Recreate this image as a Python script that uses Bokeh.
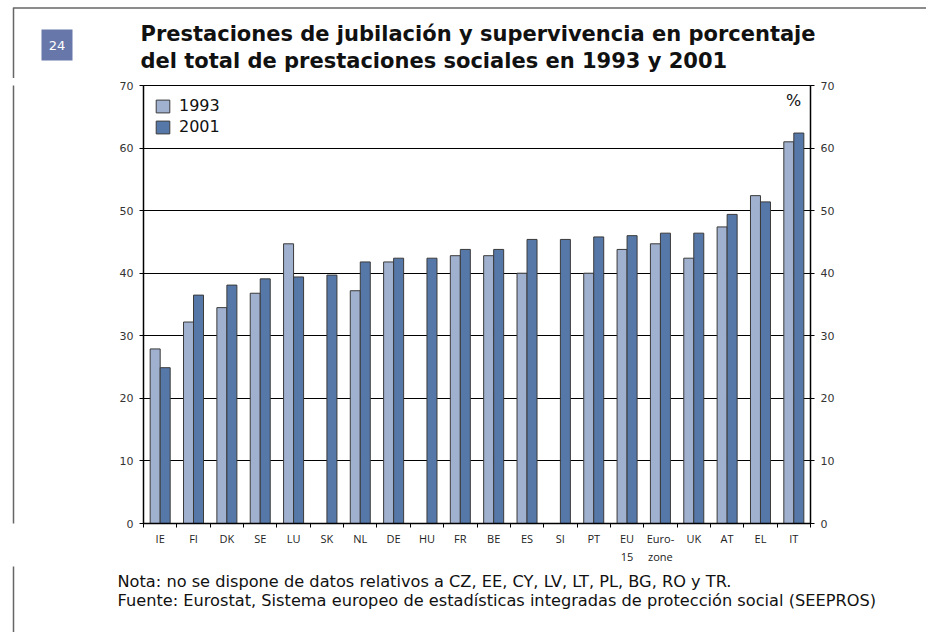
import numpy as np
from bokeh.plotting import figure
from bokeh.layouts import column, row
from bokeh.models import (ColumnDataSource, LinearAxis, FixedTicker, Range1d, Label,
                          Legend, LegendItem)
from bokeh.core.properties import value
from bokeh.embed import file_html
from bokeh.resources import INLINE

# ---------------- data ----------------
categories = ["IE", "FI", "DK", "SE", "LU", "SK", "NL", "DE", "HU", "FR", "BE", "ES", "SI",
              "PT", "EU\n15", "Euro-\nzone", "UK", "AT", "EL", "IT"]
v1993 = [27.9, 32.2, 34.5, 36.8, 44.7, np.nan, 37.2, 41.8, np.nan, 42.8, 42.8, 40.0, np.nan,
         40.0, 43.8, 44.7, 42.4, 47.4, 52.4, 61.0]
v2001 = [24.9, 36.5, 38.1, 39.1, 39.4, 39.7, 41.8, 42.4, 42.4, 43.8, 43.8, 45.4, 45.4,
         45.8, 46.0, 46.4, 46.4, 49.4, 51.4, 62.4]
series_names = ["1993", "2001"]
y_ticks = [0, 10, 20, 30, 40, 50, 60, 70]

badge_text = "24"
title_lines = ["Prestaciones de jubilación y supervivencia en porcentaje",
               "del total de prestaciones sociales en 1993 y 2001"]
notes = ["Nota: no se dispone de datos relativos a CZ, EE, CY, LV, LT, PL, BG, RO y TR.",
         "Fuente: Eurostat, Sistema europeo de estadísticas integradas de protección social (SEEPROS)"]

C1993 = "#a0b0cf"
C2001 = "#5678a9"
EDGE = "#3a3a3a"
FRAME = "#666666"

# ---------------- page geometry (page pixels) ----------------
OX, OY = 0, 0          # page position of the layout's origin
W = 912
WH = 926               # header width (top frame line runs to page edge)
HH = 78 - OY           # header height
SW = 30                # strip width (page frame line on the left)
MAIN_BOTTOM = 566
MH = MAIN_BOTTOM - (OY + HH)
FH = 66

def plain(width, height, xr, yr):
    f = figure(width=width, height=height, output_backend="svg", toolbar_location=None,
               x_range=xr, y_range=yr, min_border=0,
               x_axis_location=None, y_axis_location=None)
    f.grid.visible = False
    f.outline_line_color = None
    f.background_fill_color = "white"
    f.border_fill_color = "white"
    return f

# ---------------- header ----------------
hdr = plain(WH, HH, Range1d(OX, OX + WH), Range1d(OY + HH, OY))
hdr.segment(x0=[13, 13], y0=[7.5, 7], x1=[OX + WH + 20, 13], y1=[7.5, OY + HH + 5],
            line_color=FRAME, line_width=1.5)
hdr.quad(left=[41], right=[72], top=[29], bottom=[60], fill_color="#6877a9", line_color=None)
hdr.text(x=[56.5], y=[45], text=[badge_text], text_font=value("DejaVu Sans"),
         text_font_size="13px", text_align="center", text_baseline="middle", text_color="white")
hdr.text(x=[140, 140], y=[33, 60], text=title_lines, text_font=value("DejaVu Sans"),
         text_font_style="bold", text_font_size="21px", text_align="left",
         text_baseline="middle", text_color="#111111")

# ---------------- left strip (page frame line) ----------------
strip = plain(SW, MH, Range1d(OX, OX + SW), Range1d(0, 1))
strip.segment(x0=[13], y0=[-1], x1=[13], y1=[2], line_color=FRAME, line_width=1.5)

# ---------------- main chart ----------------
n = len(categories)
centers = [i + 0.5 for i in range(n)]
bw = 0.3
src = ColumnDataSource(dict(
    x1=[c - bw / 2 for c in centers], x2=[c + bw / 2 for c in centers],
    v1=v1993, v2=v2001))

MW = W - SW
FL, FR, FT, FBm = 143, 810, 85, 523
p = figure(width=MW, height=MH, output_backend="svg", toolbar_location=None,
           x_range=Range1d(0, n), y_range=Range1d(0, 70),
           min_border_left=FL - (OX + SW), min_border_right=(OX + W) - FR,
           min_border_top=FT - (OY + HH), min_border_bottom=(OY + HH + MH) - FBm,
           x_axis_location=None, y_axis_location=None)
p.background_fill_color = "white"
p.border_fill_color = "white"
p.outline_line_color = "black"
p.outline_line_width = 1

p.xgrid.grid_line_color = None
p.ygrid.ticker = FixedTicker(ticks=y_ticks)
p.ygrid.grid_line_color = "black"
p.ygrid.grid_line_width = 1

r1 = p.vbar(x="x1", top="v1", width=bw, source=src, fill_color=C1993, line_color=EDGE, line_width=1)
r2 = p.vbar(x="x2", top="v2", width=bw, source=src, fill_color=C2001, line_color=EDGE, line_width=1)

def yaxis():
    ax = LinearAxis(ticker=FixedTicker(ticks=y_ticks))
    ax.axis_line_color = "black"
    ax.axis_line_width = 1.5
    ax.major_tick_line_color = "black"
    ax.major_tick_out = 4
    ax.major_tick_in = 0
    ax.minor_tick_line_color = None
    ax.major_label_text_font = "DejaVu Sans"
    ax.major_label_text_font_size = "11px"
    ax.major_label_text_color = "#333333"
    ax.major_label_standoff = 6
    return ax

p.add_layout(yaxis(), "left")
p.add_layout(yaxis(), "right")

xax = LinearAxis(ticker=FixedTicker(ticks=centers, minor_ticks=list(range(n + 1))))
xax.major_label_overrides = {c: lab for c, lab in zip(centers, categories)}
xax.axis_line_color = "black"
xax.axis_line_width = 1.5
xax.major_tick_line_color = None
xax.minor_tick_line_color = "black"
xax.minor_tick_out = 4
xax.minor_tick_in = 0
xax.major_label_text_font = "Open Sans"
xax.major_label_text_font_size = "11px"
xax.major_label_text_color = "#222222"
xax.major_label_standoff = 1
p.add_layout(xax, "below")

legend = Legend(items=[LegendItem(label=series_names[0], renderers=[r1]),
                       LegendItem(label=series_names[1], renderers=[r2])],
                location="top_left")
legend.background_fill_alpha = 0
legend.border_line_color = None
legend.margin = 11
legend.padding = 9
legend.spacing = 2
legend.glyph_width = 17
legend.glyph_height = 16
legend.label_height = 16
legend.label_standoff = 8
legend.label_text_font = "DejaVu Sans"
legend.label_text_font_size = "16px"
legend.label_text_color = "#111111"
p.add_layout(legend)

p.add_layout(Label(x=793 - FL, y=FBm - 100, x_units="screen", y_units="screen", text="%",
                   text_font="DejaVu Sans", text_font_size="16px", text_align="center",
                   text_baseline="middle", text_color="#111111"))

# ---------------- footer ----------------
FY0 = OY + HH + MH
ftr = plain(W, FH, Range1d(OX, OX + W), Range1d(FY0 + FH, FY0))
ftr.segment(x0=[13], y0=[FY0 - 5], x1=[13], y1=[FY0 + FH + 5], line_color=FRAME, line_width=1.5)
ftr.text(x=[117, 117], y=[581, 600], text=notes, text_font=value("DejaVu Sans"),
         text_font_size="16.2px", text_align="left", text_baseline="middle",
         text_color="#111111")

layout = column(hdr, row(strip, p, spacing=0), ftr, spacing=0)
open("out.html", "w").write(file_html(layout, INLINE))
